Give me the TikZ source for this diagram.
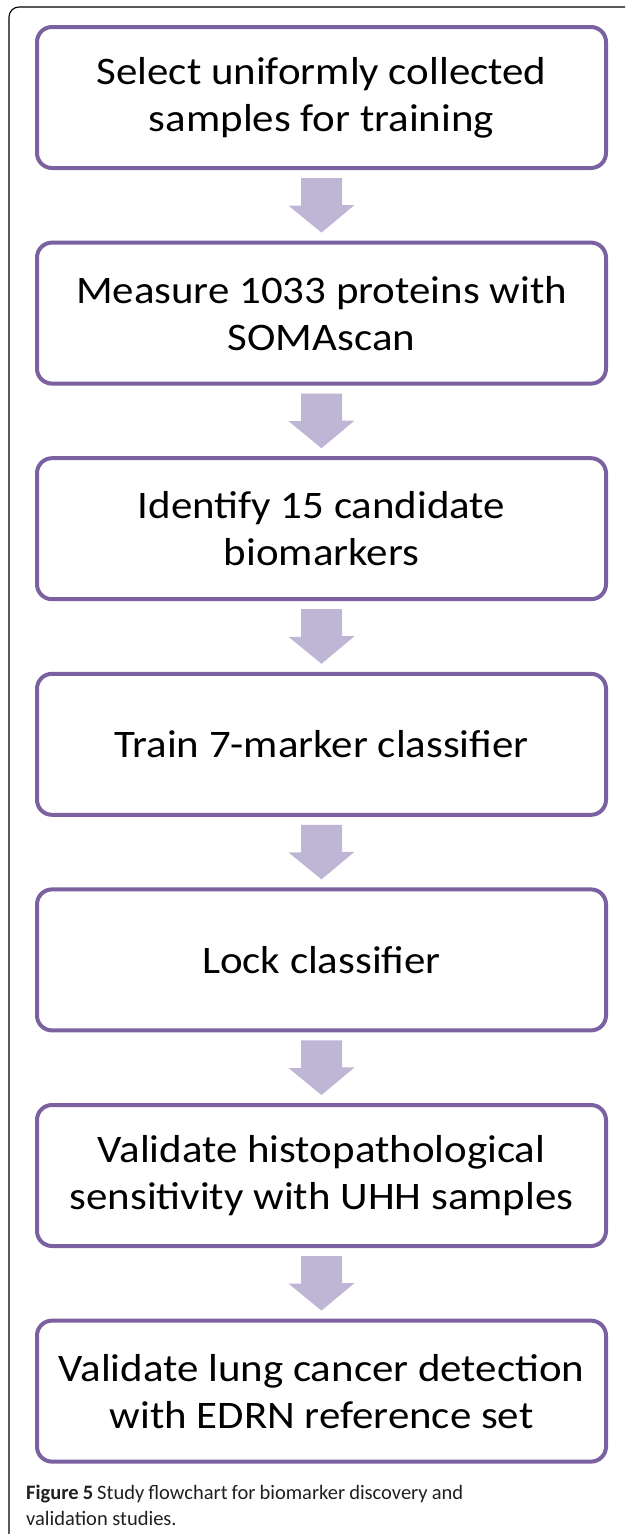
\documentclass[tikz,border=0pt]{standalone}
\usepackage{fontspec}
\setmainfont{Carlito}[FakeStretch=1.1]
\newfontfamily\capfont{Carlito}
\usepackage{tikz}
\usetikzlibrary{positioning}

\definecolor{boxline}{RGB}{123,97,160}
\definecolor{arrowfill}{RGB}{191,182,213}
\definecolor{captext}{RGB}{35,31,32}

\tikzset{
    stagebox/.style={draw=boxline, line width=4pt, rounded corners=15pt, outer sep=0pt,
        minimum width=569pt, minimum height=141pt, align=center,
        font=\fontsize{39}{47}\selectfont},
    flowarrow/.style={fill=arrowfill, draw=none},
    captionline/.style={anchor=base west, inner sep=0pt, text=captext,
        font=\capfont\fontsize{20.5}{26}\selectfont}
}

\begin{document}
\begin{tikzpicture}[x=1pt, y=-1pt, node distance=74.6pt]
    \useasboundingbox (0,0) rectangle (625,1534);
    \draw[line width=1.1pt, rounded corners=10pt] (625,7) -- (9,7) -- (9,1534);

    \node[stagebox] (b1) at (321.5,97.5) {Select uniformly collected\\samples for training};
    \node[stagebox, below=of b1] (b2) {Measure 1033 proteins with\\SOMAscan};
    \node[stagebox, below=of b2] (b3) {Identify 15 candidate\\biomarkers};
    \node[stagebox, below=of b3] (b4) {Train 7-marker classifier};
    \node[stagebox, below=of b4] (b5) {Lock classifier};
    \node[stagebox, below=of b5] (b6) {Validate histopathological\\sensitivity with UHH samples};
    \node[stagebox, below=of b6] (b7) {Validate lung cancer detection\\with EDRN reference set};

    \foreach \i [evaluate=\i as \j using int(\i+1)] in {1,...,6}
        \fill[flowarrow] ([xshift=-20.5pt, yshift=-10pt]b\i.south) -- ++(41,0) -- ++(0,27)
            -- ++(12.5,0) -- ([yshift=10pt]b\j.north) -- ++(-33,-27) -- ++(12.5,0) -- cycle;

    \node[captionline] (cap1) at (26,1499)
        {\makebox[437pt][s]{\textbf{Figure 5} Study flowchart for biomarker discovery and}};
    \node[captionline] (cap2) at ([yshift=-26pt]cap1.base west) {validation studies.};
\end{tikzpicture}
\end{document}
